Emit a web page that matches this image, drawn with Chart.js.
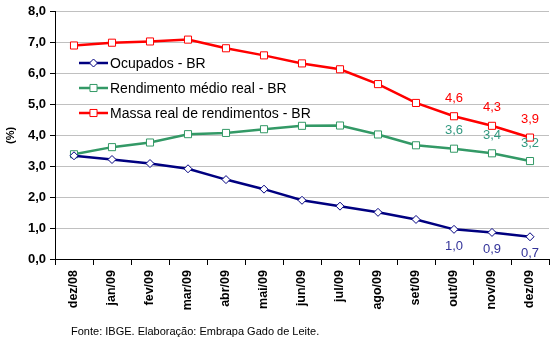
<!DOCTYPE html>
<html>
<head>
<meta charset="utf-8">
<script src="https://cdn.jsdelivr.net/npm/chart.js@4.4.1/dist/chart.umd.min.js"></script>
<style>
    html, body { margin: 0; padding: 0; background: #ffffff; }
    #wrap { width: 557px; height: 343px; position: relative; }
</style>
</head>
<body>
<div id="wrap"><canvas id="rendaChart" width="557" height="343"></canvas></div>
<script>
// Chart data
const months = ['dez/08', 'jan/09', 'fev/09', 'mar/09', 'abr/09', 'mai/09', 'jun/09',
    'jul/09', 'ago/09', 'set/09', 'out/09', 'nov/09', 'dez/09'];
const ocupados = [3.34, 3.22, 3.09, 2.92, 2.57, 2.26, 1.90, 1.71, 1.51, 1.28, 0.96, 0.86, 0.72];
const rendimento = [3.39, 3.62, 3.77, 4.04, 4.08, 4.20, 4.31, 4.32, 4.03, 3.68, 3.57, 3.42, 3.17];
const massa = [6.91, 7.00, 7.04, 7.10, 6.82, 6.59, 6.33, 6.14, 5.66, 5.05, 4.62, 4.31, 3.93];
const yTicks = [0, 1, 2, 3, 4, 5, 6, 7, 8];
const labelledPoints = [10, 11, 12];
const sourceNote = 'Fonte: IBGE. Elaboração: Embrapa Gado de Leite.';

const fmt = v => v.toFixed(1).replace('.', ',');

// Value labels on the last months
const valueLabels = {
    id: 'valueLabels',
    afterDatasetsDraw(chart) {
        const ctx = chart.ctx;
        ctx.save();
        ctx.font = '13px "Liberation Sans", Arial, sans-serif';
        ctx.textAlign = 'center';
        ctx.textBaseline = 'middle';
        chart.data.datasets.forEach((ds, i) => {
            const meta = chart.getDatasetMeta(i);
            labelledPoints.forEach(idx => {
                const pt = meta.data[idx];
                ctx.fillStyle = ds.labelColor;
                const dy = ds.labelBelow ? 17 : -18;
                ctx.fillText(fmt(ds.data[idx]), pt.x, pt.y + dy);
            });
        });
        ctx.restore();
    }
};

// Legend drawn inside the plot, plus the source note
const innerLegend = {
    id: 'innerLegend',
    afterDraw(chart) {
        const ctx = chart.ctx;
        ctx.save();
        chart.data.datasets.forEach((ds, i) => {
            const y = 63 + i * 25;
            ctx.strokeStyle = ds.borderColor;
            ctx.lineWidth = 2.5;
            ctx.beginPath();
            ctx.moveTo(79, y);
            ctx.lineTo(108, y);
            ctx.stroke();
            ctx.fillStyle = '#ffffff';
            ctx.lineWidth = 1;
            Chart.helpers.drawPoint(ctx, {
                pointStyle: ds.pointStyle,
                radius: ds.pointRadius,
                borderWidth: 1
            }, 93.5, y);
            ctx.fillStyle = '#000000';
            ctx.font = '14px "Liberation Sans", Arial, sans-serif';
            ctx.textAlign = 'left';
            ctx.textBaseline = 'middle';
            ctx.fillText(ds.label, 110, y + 1);
        });
        ctx.font = '11px "Liberation Sans", Arial, sans-serif';
        ctx.fillStyle = '#000000';
        ctx.textBaseline = 'middle';
        ctx.fillText(sourceNote, 71, 332);
        ctx.restore();
    }
};

new Chart(document.getElementById('rendaChart'), {
    type: 'line',
    data: {
        labels: months,
        datasets: [{
            label: 'Ocupados - BR',
            data: ocupados,
            borderColor: '#000080',
            backgroundColor: '#ffffff',
            borderWidth: 2.5,
            pointStyle: 'rectRot',
            pointRadius: 4,
            pointBorderWidth: 1,
            labelColor: '#333399',
            labelBelow: true
        }, {
            label: 'Rendimento médio real - BR',
            data: rendimento,
            borderColor: '#339966',
            backgroundColor: '#ffffff',
            borderWidth: 2.5,
            pointStyle: 'rect',
            pointRadius: 5,
            pointBorderWidth: 1,
            labelColor: '#339980',
            labelBelow: false
        }, {
            label: 'Massa real de rendimentos - BR',
            data: massa,
            borderColor: '#ff0000',
            backgroundColor: '#ffffff',
            borderWidth: 2.5,
            pointStyle: 'rect',
            pointRadius: 5,
            pointBorderWidth: 1,
            labelColor: '#ff0000',
            labelBelow: false
        }]
    },
    options: {
        responsive: false,
        devicePixelRatio: 1,
        animation: false,
        layout: { padding: { left: 0, top: 11, right: 8, bottom: 0 } },
        plugins: {
            legend: { display: false },
            tooltip: { enabled: false }
        },
        elements: { line: { tension: 0 } },
        scales: {
            x: {
                offset: true,
                grid: {
                    offset: true,
                    drawOnChartArea: false,
                    tickColor: '#000000',
                    tickLength: 6
                },
                border: { color: '#000000', width: 1 },
                ticks: {
                    minRotation: 90,
                    maxRotation: 90,
                    color: '#000000',
                    padding: 5,
                    font: { family: '"Liberation Sans", Arial, sans-serif', size: 12.5, weight: 'bold' }
                },
                afterFit(scale) { scale.height = 84; }
            },
            y: {
                min: 0,
                max: 8,
                afterBuildTicks(scale) { scale.ticks = yTicks.map(v => ({ value: v })); },
                grid: {
                    color: '#c0c0c0',
                    tickColor: '#000000',
                    tickLength: 5
                },
                border: { color: '#000000', width: 1 },
                ticks: {
                    color: '#000000',
                    padding: 4,
                    callback: v => fmt(v),
                    font: { family: '"Liberation Sans", Arial, sans-serif', size: 13, weight: 'bold' }
                },
                title: {
                    display: true,
                    text: '(%)',
                    color: '#000000',
                    padding: { top: 4, bottom: 0 },
                    font: { family: '"Liberation Sans", Arial, sans-serif', size: 11, weight: 'bold' }
                },
                afterFit(scale) { scale.width = 55; }
            }
        }
    },
    plugins: [valueLabels, innerLegend]
});
</script>
</body>
</html>
